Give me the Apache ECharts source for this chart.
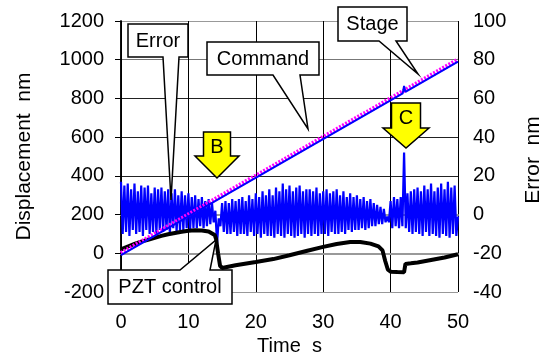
<!DOCTYPE html>
<html><head><meta charset="utf-8">
<script src="https://cdn.jsdelivr.net/npm/echarts@6/dist/echarts.min.js"></script>
<style>html,body{margin:0;padding:0;background:#fff}#c{width:548px;height:353px}</style>
</head><body><div id="c"></div>
<script>
// ---- data ----
var xTicks = [0, 10, 20, 30, 40, 50];
var dispTicks = [-200, 0, 200, 400, 600, 800, 1000, 1200];
var errTicks = [-40, -20, 0, 20, 40, 60, 80, 100];
var errStep = 0.25; // sampling interval of the error record, s
var errorVals = [
  17,-10,15,-9,16,-11,13,-8,
  16,-10,12,-9,15,-11,14,-8,
  15,-10,11,-9,14,-10,13,-8,
  14,-9,12,-8,13,-10,11,-7,
  13,-9,10,-8,12,-8,10,-7,
  11,-8,9,-7,10,-7,8,-6,
  9,-7,7,-6,8,-5,6,-4,
  2,-15,-2,-6,6,-9,7,-10,
  6,-10,8,-9,7,-11,8,-10,
  9,-10,7,-11,10,-9,8,-11,
  11,-10,9,-12,12,-10,10,-11,
  13,-11,10,-12,14,-10,12,-11,
  16,-12,13,-10,15,-11,12,-12,
  14,-11,15,-10,12,-12,13,-10,
  13,-11,12,-10,14,-11,11,-10,
  12,-10,13,-11,11,-9,12,-10,
  13,-10,10,-9,12,-10,9,-8,
  11,-9,9,-8,10,-8,8,-7,
  9,-8,7,-7,8,-6,6,-6,
  5,-5,4,-5,3,-4,-1,-4,
  7,-7,9,-6,8,-7,9,-6,
  32,-7,11,-9,12,-10,13,-9,
  14,-10,12,-11,15,-9,13,-11,
  16,-10,12,-11,14,-12,16,-10,
  13,-11,17,-12,14,-10,15,-11,
  -1
];
var commandT = [0, 50];
var commandV = [0, 1000];
var stageT = [0, 41.8, 42.0, 42.2, 50];
var stageV = [-10, 826, 864, 834, 990];
var pztT = [0,1,2,3,4,5,6,7,8,9,10,11,12,13,13.9,14.1,14.4,14.7,15,17,20,22.6,25,27.5,30,32,34,35.5,37,38.2,38.8,39.2,39.6,40,41,42,42.2,43,44,46,48,50];
var pztV = [20,35,48,60,70,80,90,98,105,111,116,119,118,113,95,75,0,-65,-76,-62,-45,-30,-10,12,33,48,58,58,50,36,15,-40,-85,-95,-97,-98,-55,-52,-48,-35,-22,-5];

function pairs(t, v){ return t.map(function(x,i){ return [x, v[i]]; }); }
var errorData = errorVals.map(function(v,i){ return [i*errStep, v]; });

var FONT = 'Liberation Sans, Arial, sans-serif';
var chart = echarts.init(document.getElementById('c'), null, {renderer:'canvas'});

function callout(points, text, tx, ty){
  return [
    {type:'polygon', z:100, shape:{points:points}, style:{fill:'#fff', stroke:'#000', lineWidth:1.5}},
    {type:'text', z:101, x:tx, y:ty, style:{text:text, fill:'#000', font:'20px ' + FONT, align:'center', verticalAlign:'middle'}}
  ];
}
function arrow(cx, top, shaftW, headStart, headW, tip, letter, ly){
  var pts = [[cx-shaftW/2, top],[cx+shaftW/2, top],[cx+shaftW/2, headStart],[cx+headW/2, headStart],[cx, tip],[cx-headW/2, headStart],[cx-shaftW/2, headStart]];
  return [
    {type:'polygon', z:100, shape:{points:pts}, style:{fill:'#ffff00', stroke:'#000', lineWidth:1.5}},
    {type:'text', z:101, x:cx, y:ly, style:{text:letter, fill:'#000', font:'20px ' + FONT, align:'center', verticalAlign:'middle'}}
  ];
}

var graphics = [].concat(
  callout([[128,24],[188,24],[188,57],[179,57],[171,200],[163,57],[128,57]], 'Error', 158, 41),
  callout([[207,42],[319,42],[319,75],[300,75],[308,129],[273,75],[207,75]], 'Command', 263, 59),
  callout([[338,7],[407,7],[407,41],[396,41],[418,74],[379,41],[338,41]], 'Stage', 372.5, 24),
  callout([[108,270],[180,270],[216,240],[210,270],[232,270],[232,304],[108,304]], 'PZT control', 170, 287.5),
  arrow(217, 132, 27, 156, 44, 178, 'B', 147),
  arrow(406, 103, 29, 128, 46, 148, 'C', 118),
  [{type:'text', z:101, x:533, y:160, rotation:Math.PI/2,
    style:{text:'Error  nm', fill:'#000', font:'21px ' + FONT, align:'center', verticalAlign:'middle'}}]
);

function plain(v){ return String(v); }

var option = {
  animation: false,
  backgroundColor: '#fff',
  textStyle: {fontFamily: FONT},
  grid: {left:121, right:90, top:21, bottom:61, containLabel:false, outerBoundsMode:'none'},
  xAxis: [{
    type:'value', min:xTicks[0], max:xTicks[xTicks.length-1], interval:10,
    name:'Time  s', nameLocation:'middle', nameGap:42,
    nameTextStyle:{fontSize:20, color:'#000', fontFamily:FONT},
    axisLine:{show:true, lineStyle:{color:'#999', width:2}},
    axisTick:{show:false},
    axisLabel:{fontSize:20, color:'#000', margin:20, fontFamily:FONT, formatter:plain},
    splitLine:{show:true, lineStyle:{color:'#000', width:1}}
  },{
    type:'value', position:'top', min:0, max:50, interval:10,
    axisLine:{show:true, lineStyle:{color:'#999', width:2}},
    axisTick:{show:false}, axisLabel:{show:false}, splitLine:{show:false}
  }],
  yAxis: [{
    type:'value', min:dispTicks[0], max:dispTicks[dispTicks.length-1], interval:200,
    name:'Displacement  nm', nameLocation:'middle', nameGap:86, nameRotate:90,
    nameTextStyle:{fontSize:21, color:'#000', fontFamily:FONT},
    axisLine:{show:true, lineStyle:{color:'#000', width:1.5}},
    axisTick:{show:false},
    axisLabel:{fontSize:20, color:'#000', margin:17, fontFamily:FONT, formatter:plain},
    splitLine:{show:true, lineStyle:{color:['#999','#222','#222','#222','#222','#222','#777','#999'], width:1}}
  },{
    type:'value', position:'right', min:errTicks[0], max:errTicks[errTicks.length-1], interval:20,
    axisLine:{show:true, lineStyle:{color:'#000', width:1.5}},
    axisTick:{show:true, inside:true, length:6, lineStyle:{color:'#000'}},
    axisLabel:{fontSize:20, color:'#000', margin:15, fontFamily:FONT, formatter:plain},
    splitLine:{show:false}
  }],
  series: [
    {type:'line', name:'Error', yAxisIndex:1, data:errorData, showSymbol:false, symbol:'none',
     lineStyle:{color:'#0000ff', width:2.2}, z:2},
    {type:'line', name:'PZT control', data:pairs(pztT, pztV), showSymbol:false, symbol:'none',
     lineStyle:{color:'#000', width:4}, z:3},
    {type:'line', name:'Command', data:pairs(commandT, commandV), showSymbol:false, symbol:'none',
     lineStyle:{color:'#ff00ff', width:4.5, type:[2,1.5]}, z:4},
    {type:'line', name:'Stage', data:pairs(stageT, stageV), showSymbol:false, symbol:'none',
     lineStyle:{color:'#0000ff', width:2}, z:5}
  ],
  graphic: graphics
};
chart.setOption(option);
</script>
</body></html>
